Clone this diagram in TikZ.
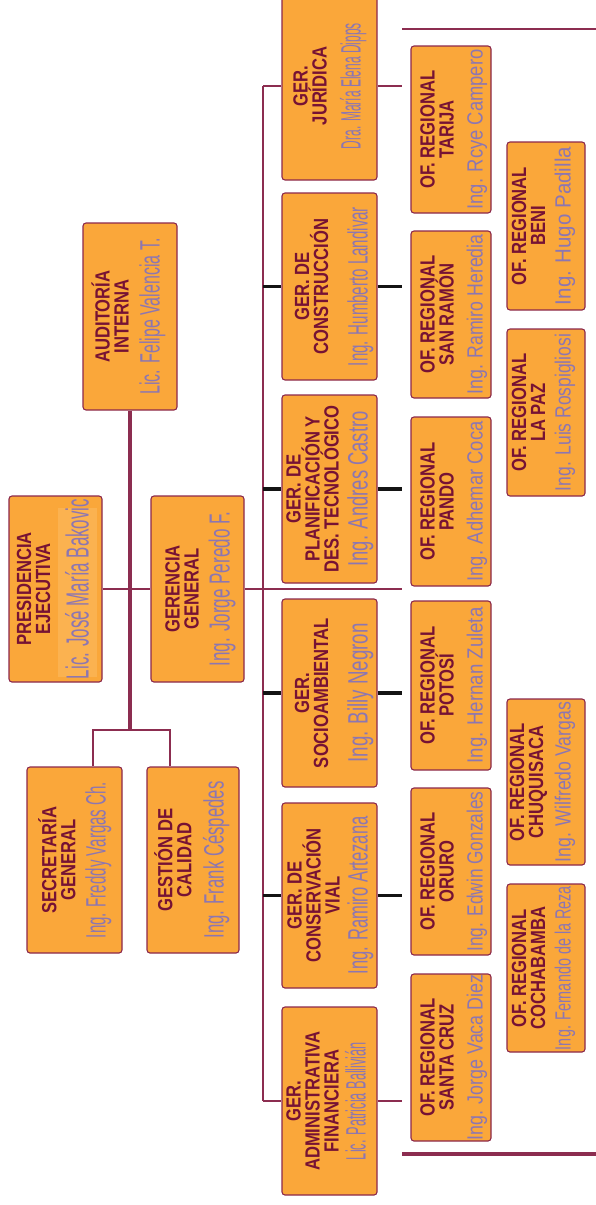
\documentclass[tikz,border=0pt]{standalone}
\usepackage{fontspec}
\usepackage{graphicx}
\setmainfont{Liberation Sans}
\newfontfamily\titlefont[FakeStretch=0.81]{Liberation Sans}
\newfontfamily\namefont{Liberation Sans}
\definecolor{boxfill}{RGB}{250,167,58}
\definecolor{boxedge}{RGB}{140,40,75}
\definecolor{ttlc}{RGB}{118,18,52}
\definecolor{namec}{RGB}{140,118,178}
\definecolor{linec}{RGB}{140,45,80}
\definecolor{namebg}{RGB}{251,178,80}
\newcommand\nm[3]{\resizebox{#2pt}{\height}{\namefont\fontsize{#1}{#1}\selectfont #3}}
\tikzset{
  box/.style={draw=boxedge, fill=boxfill, line width=1.1pt, rounded corners=3pt, inner sep=0pt},
  ttl/.style={rotate=90, inner sep=0pt, text=ttlc, font=\titlefont\bfseries\fontsize{20.5}{19}\selectfont, align=center},
  nmn/.style={rotate=90, inner sep=0pt, text=namec, anchor=base},
  conn/.style={draw=linec, line width=2.6pt},
  stubk/.style={draw=black!92, line width=3.5pt},
}
\newcommand\obox[5]{\node[box, minimum width={(#4-#2)*1pt}, minimum height={(#5-#3)*1pt}] (#1) at ({(#2+#4)/2},{(#3+#5)/2}) {};}
\begin{document}
\begin{tikzpicture}[x=1pt,y=-1pt]
\useasboundingbox (0,0) rectangle (596,1205);
% ---------- boxes ----------
\obox{aud}{83}{223}{177}{410}
\obox{pre}{9}{496}{102}{682}
\obox{ger}{151}{496}{244}{682}
\obox{sec}{27}{767}{122}{953}
\obox{ges}{147}{767}{239}{953}
\obox{jur}{282}{-8}{377}{180}
\obox{con}{282}{193}{377}{380}
\obox{pla}{282}{395}{377}{583}
\obox{soc}{282}{599}{377}{787}
\obox{cvi}{282}{803}{377}{988}
\obox{adm}{282}{1007}{377}{1195}
\obox{tar}{411}{46}{491}{213}
\obox{sra}{411}{231}{491}{398}
\obox{pan}{411}{417}{491}{586}
\obox{pot}{411}{601}{491}{770}
\obox{oru}{411}{788}{491}{955}
\obox{scz}{411}{974}{491}{1141}
\obox{ben}{507}{142}{585}{310}
\obox{lpz}{507}{329}{585}{496}
\obox{chu}{507}{699}{585}{865}
\obox{cbb}{507}{884}{585}{1052}
\fill[namebg] (58,508) rectangle (97,677);
% ---------- titles ----------
\node[ttl] (t-aud) at ([xshift=27.5pt]aud.west) {AUDITORÍA\\INTERNA};
\node[ttl] (t-pre) at ([xshift=25pt]pre.west) {PRESIDENCIA\\EJECUTIVA};
\node[ttl] (t-ger) at ([xshift=31.5pt]ger.west) {GERENCIA\\GENERAL};
\node[ttl] (t-sec) at ([xshift=30.5pt]sec.west) {SECRETARÍA\\GENERAL};
\node[ttl] (t-ges) at ([xshift=26.5pt]ges.west) {GESTIÓN DE\\CALIDAD};
\node[ttl] (t-jur) at ([xshift=28.5pt]jur.west) {GER.\\JURÍDICA};
\node[ttl] (t-con) at ([xshift=30pt]con.west) {GER. DE\\CONSTRUCCIÓN};
\node[ttl] (t-pla) at ([xshift=31pt]pla.west) {GER. DE\\PLANIFICACIÓN Y\\DES. TECNOLÓGICO};
\node[ttl] (t-soc) at ([xshift=30pt]soc.west) {GER.\\SOCIOAMBIENTAL};
\node[ttl] (t-cvi) at ([xshift=32pt]cvi.west) {GER. DE\\CONSERVACIÓN\\VIAL};
\node[ttl] (t-adm) at ([xshift=31pt]adm.west) {GER.\\ADMINISTRATIVA\\FINANCIERA};
\node[ttl] (t-tar) at ([xshift=26.5pt]tar.west) {OF. REGIONAL\\TARIJA};
\node[ttl] (t-sra) at ([xshift=26.5pt]sra.west) {OF. REGIONAL\\SAN RAMÓN};
\node[ttl] (t-pan) at ([xshift=26.5pt]pan.west) {OF. REGIONAL\\PANDO};
\node[ttl] (t-pot) at ([xshift=26.5pt]pot.west) {OF. REGIONAL\\POTOSÍ};
\node[ttl] (t-oru) at ([xshift=26.5pt]oru.west) {OF. REGIONAL\\ORURO};
\node[ttl] (t-scz) at ([xshift=26.5pt]scz.west) {OF. REGIONAL\\SANTA CRUZ};
\node[ttl] (t-ben) at ([xshift=22pt]ben.west) {OF. REGIONAL\\BENI};
\node[ttl] (t-lpz) at ([xshift=22pt]lpz.west) {OF. REGIONAL\\LA PAZ};
\node[ttl] (t-chu) at ([xshift=22pt]chu.west) {OF. REGIONAL\\CHUQUISACA};
\node[ttl] (t-cbb) at ([xshift=22pt]cbb.west) {OF. REGIONAL\\COCHABAMBA};
% ---------- names ----------
\node[nmn] (n-aud) at ([xshift=-18pt]aud.east) {\nm{28}{156}{Lic. Felipe Valencia T.}};
\node[nmn] (n-pre) at ([xshift=-14pt]pre.east) {\nm{32}{180}{Lic. José María Bakovic}};
\node[nmn] (n-ger) at ([xshift=-15pt]ger.east) {\nm{29}{155}{Ing. Jorge Peredo F.}};
\node[nmn] (n-sec) at ([xshift=-17pt]sec.east) {\nm{28}{156}{Ing. Freddy Vargas Ch.}};
\node[nmn] (n-ges) at ([xshift=-16pt]ges.east) {\nm{28}{157}{Ing. Frank Céspedes}};
\node[nmn] (n-jur) at ([xshift=-17pt]jur.east) {\nm{28}{126}{Dra. María Elena Dipps}};
\node[nmn] (n-con) at ([xshift=-10pt]con.east) {\nm{28}{159}{Ing. Humberto Landivar}};
\node[nmn] (n-pla) at ([xshift=-10pt]pla.east) {\nm{28}{155}{Ing. Andres Castro}};
\node[nmn] (n-soc) at ([xshift=-10pt]soc.east) {\nm{28}{139}{Ing. Billy Negron}};
\node[nmn] (n-cvi) at ([xshift=-10pt]cvi.east) {\nm{28}{158}{Ing. Ramiro Artezana}};
\node[nmn] (n-adm) at ([xshift=-12pt]adm.east) {\nm{28}{118}{Lic. Patricia Ballivián}};
\node[nmn] (n-tar) at ([xshift=-9pt]tar.east) {\nm{22}{160}{Ing. Rcye Campero}};
\node[nmn] (n-sra) at ([xshift=-9pt]sra.east) {\nm{22}{160}{Ing. Ramiro Heredia}};
\node[nmn] (n-pan) at ([xshift=-9pt]pan.east) {\nm{22}{160}{Ing. Adhemar Coca}};
\node[nmn] (n-pot) at ([xshift=-9pt]pot.east) {\nm{22}{156}{Ing. Hernan Zuleta}};
\node[nmn] (n-oru) at ([xshift=-9pt]oru.east) {\nm{22}{160}{Ing. Edwin Gonzales}};
\node[nmn] (n-scz) at ([xshift=-9pt]scz.east) {\nm{22}{166}{Ing. Jorge Vaca Diez}};
\node[nmn] (n-ben) at ([xshift=-15pt]ben.east) {\nm{22}{158}{Ing. Hugo Padilla}};
\node[nmn] (n-lpz) at ([xshift=-15pt]lpz.east) {\nm{22}{157}{Ing. Luis Rospigliosi}};
\node[nmn] (n-chu) at ([xshift=-15pt]chu.east) {\nm{22}{160}{Ing. Wilfredo Vargas}};
\node[nmn] (n-cbb) at ([xshift=-15pt]cbb.east) {\nm{22}{164}{Ing. Fernando de la Reza}};
% ---------- connectors ----------
\coordinate (trk) at (263,0);
\coordinate (rs) at (402,0);
\coordinate (sbl) at (93,730);
\coordinate (sbr) at (170,730);
\draw[conn] (trk |- jur.west) -- (trk |- adm.west);
\draw[conn] (trk |- jur.west) -- (jur.west);
\draw[conn] (trk |- adm.west) -- (adm.west);
\foreach \b in {con,pla,soc,cvi}{
  \draw[stubk] (trk |- \b.west) -- (\b.west);
  \draw[stubk] (\b.east) -- (rs |- \b.east);
}
\draw[conn] (jur.east) -- (rs |- jur.east);
\draw[conn] (adm.east) -- (rs |- adm.east);
\draw[conn] (pre.east) -- (ger.west);
\draw[conn] (ger.east) -- (rs |- ger.east);
\draw[conn, line width=3.6pt] (aud.south) -- (aud.south |- sbl);
\draw[conn] (sec.north -| sbl) -- (sbl) -- (sbr) -- (ges.north -| sbr);
% ---------- side rules ----------
\coordinate (r1a) at (402,29);
\coordinate (r1b) at (596,29);
\coordinate (r2a) at (402,1154);
\coordinate (r2b) at (596,1154);
\draw[conn, line width=2.6pt] (r1a) -- (r1b);
\draw[conn, line width=3.6pt] (r2a) -- (r2b);
\end{tikzpicture}
\end{document}
